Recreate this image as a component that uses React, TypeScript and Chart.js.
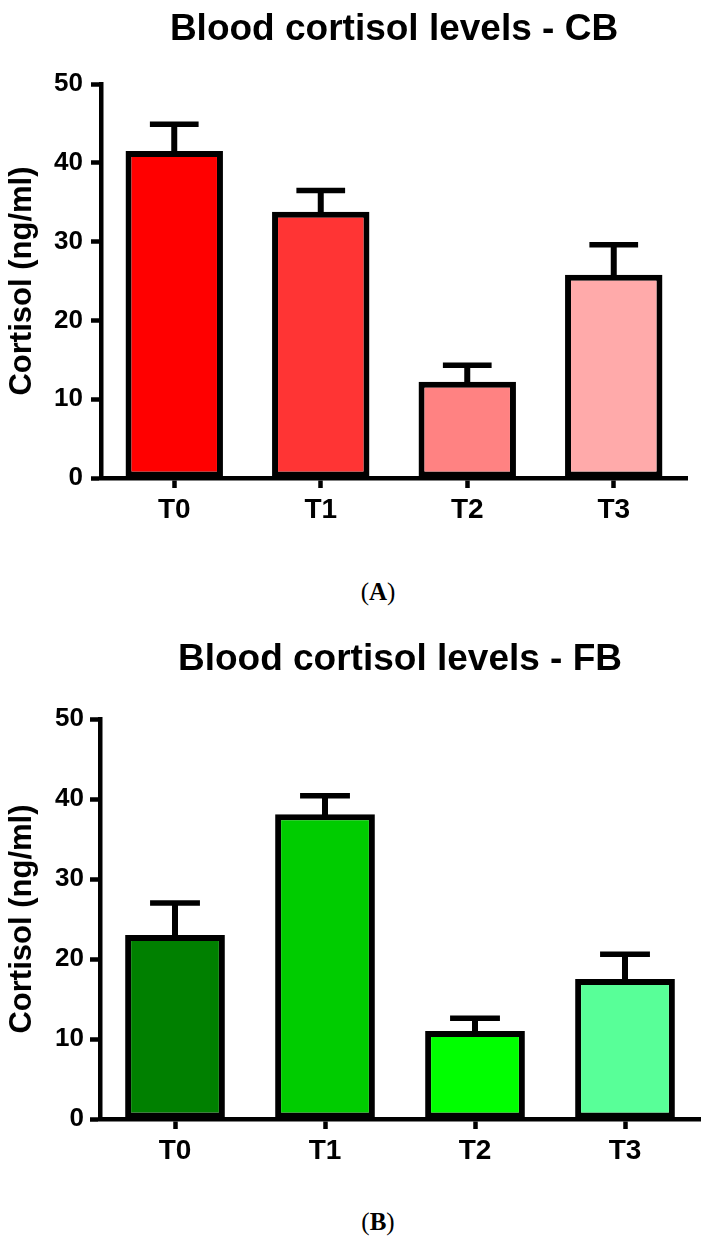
import React, { useEffect, useRef } from "react";
import { Chart, registerables } from "chart.js";

Chart.register(...registerables);

// ---- data ----
const categories = ["T0", "T1", "T2", "T3"];
const yTickValues = [0, 10, 20, 30, 40, 50];

const cbTitle = "Blood cortisol levels - CB";
const cbMeans = [41.5, 33.8, 12.2, 25.8];
const cbErrors = [3.4, 2.7, 2.1, 3.8];
const cbColors = ["#FF0000", "#FF3434", "#FF8282", "#FFAAAA"];

const fbTitle = "Blood cortisol levels - FB";
const fbMeans = [23.0, 38.1, 11.0, 17.5];
const fbErrors = [4.0, 2.3, 1.6, 3.1];
const fbColors = ["#008000", "#00CC00", "#00FF00", "#58FF98"];

const yAxisTitle = "Cortisol (ng/ml)";
const captionA = "A";
const captionB = "B";

const SANS = '"Liberation Sans", Arial, Helvetica, sans-serif';
const SERIF = '"Liberation Serif", "Times New Roman", Times, serif';

const centeredTitlePlugin = {
  id: "centeredTitle",
  afterDraw(chart: any, _args: any, opts: any) {
    const { ctx, chartArea } = chart;
    ctx.save();
    ctx.font = `bold ${opts.size}px ${SANS}`;
    ctx.fillStyle = "#000";
    ctx.textAlign = "center";
    ctx.textBaseline = "alphabetic";
    ctx.fillText(opts.text, (chartArea.left + chartArea.right) / 2, opts.baseline);
    ctx.restore();
  },
};

const errorBarPlugin = {
  id: "errorBars",
  afterDatasetsDraw(chart: any, _args: any, opts: any) {
    const { ctx } = chart;
    const meta = chart.getDatasetMeta(0);
    const data = chart.data.datasets[0].data as number[];
    const yScale = chart.scales.y;
    const errs: number[] = opts.errors || [];
    ctx.save();
    ctx.strokeStyle = "#000";
    ctx.lineCap = "butt";
    meta.data.forEach((bar: any, i: number) => {
      const topY = yScale.getPixelForValue(data[i] + errs[i]);
      const x = bar.x;
      ctx.lineWidth = 6;
      ctx.beginPath();
      ctx.moveTo(x, bar.y + 3);
      ctx.lineTo(x, topY);
      ctx.stroke();
      const half = bar.width / 4;
      ctx.lineWidth = 5.5;
      ctx.beginPath();
      ctx.moveTo(x - half, topY);
      ctx.lineTo(x + half, topY);
      ctx.stroke();
    });
    ctx.restore();
  },
};

type PanelProps = {
  title: string;
  means: number[];
  errors: number[];
  colors: string[];
  top: number;
  yAxisWidth: number;
  padTop: number;
  padRight: number;
  xAxisHeight: number;
  yTickPad: number;
};

const CANVAS_W = 709;
const CANVAS_H = 560;

function Panel(p: PanelProps) {
  const ref = useRef<HTMLCanvasElement | null>(null);
  useEffect(() => {
    if (!ref.current) return;
    const chart = new Chart(ref.current, {
      type: "bar",
      data: {
        labels: categories,
        datasets: [
          {
            data: p.means,
            backgroundColor: p.colors,
            borderColor: "#000",
            borderWidth: 6,
            borderSkipped: false,
            categoryPercentage: 1,
            barPercentage: 0.665,
          },
        ],
      },
      options: {
        responsive: false,
        animation: false,
        devicePixelRatio: 1,
        layout: { padding: { top: p.padTop, right: p.padRight, left: 0, bottom: 0 } },
        plugins: {
          legend: { display: false },
          tooltip: { enabled: false },
          title: { display: false },
          centeredTitle: { text: p.title, size: 37, baseline: 40 },
          errorBars: { errors: p.errors },
        } as any,
        scales: {
          x: {
            type: "category",
            offset: true,
            grid: {
              display: true,
              offset: false,
              drawOnChartArea: false,
              drawTicks: true,
              tickLength: 10,
              tickWidth: 4.5,
              tickColor: "#000",
            },
            border: { display: true, color: "#000", width: 4.5 },
            ticks: {
              color: "#000",
              font: { family: SANS, size: 28, weight: "bold" },
              padding: 5,
              maxRotation: 0,
              autoSkip: false,
            },
            afterFit(scale: any) {
              scale.height = p.xAxisHeight;
            },
          },
          y: {
            min: 0,
            max: 50,
            afterBuildTicks(scale: any) {
              scale.ticks = yTickValues.map((v) => ({ value: v }));
            },
            grid: {
              display: true,
              drawOnChartArea: false,
              drawTicks: true,
              tickLength: 10,
              tickWidth: 4.5,
              tickColor: "#000",
            },
            border: { display: true, color: "#000", width: 4.5 },
            ticks: {
              color: "#000",
              font: { family: SANS, size: 26, weight: "bold" },
              padding: p.yTickPad,
            },
            title: {
              display: true,
              text: yAxisTitle,
              color: "#000",
              font: { family: SANS, size: 31, weight: "bold" },
              padding: { top: 4, bottom: 0 },
            },
            afterFit(scale: any) {
              scale.width = p.yAxisWidth;
            },
          },
        },
      } as any,
      plugins: [centeredTitlePlugin, errorBarPlugin] as any,
    });
    return () => chart.destroy();
  }, []);
  return (
    <canvas
      ref={ref}
      width={CANVAS_W}
      height={CANVAS_H}
      style={{ position: "absolute", left: 0, top: p.top, width: CANVAS_W, height: CANVAS_H, display: "block" }}
    />
  );
}

function Caption({ letter, top }: { letter: string; top: number }) {
  return (
    <div
      style={{
        position: "absolute",
        left: 378,
        top,
        transform: "translateX(-50%)",
        fontFamily: SERIF,
        fontSize: 25,
        lineHeight: "25px",
        color: "#000",
        whiteSpace: "nowrap",
      }}
    >
      (<b>{letter}</b>)
    </div>
  );
}

export default function App() {
  return (
    <div
      style={{
        position: "absolute",
        left: 0,
        top: 0,
        width: 709,
        height: 1249,
        background: "#fff",
        overflow: "hidden",
      }}
    >
      <Panel
        title={cbTitle}
        means={cbMeans}
        errors={cbErrors}
        colors={cbColors}
        top={0}
        yAxisWidth={101}
        padTop={84}
        padRight={22}
        xAxisHeight={CANVAS_H - 478}
        yTickPad={8}
      />
      <Caption letter={captionA} top={579} />
      <Panel
        title={fbTitle}
        means={fbMeans}
        errors={fbErrors}
        colors={fbColors}
        top={630}
        yAxisWidth={100}
        padTop={89}
        padRight={9}
        xAxisHeight={CANVAS_H - 489}
        yTickPad={6}
      />
      <Caption letter={captionB} top={1209} />
    </div>
  );
}
